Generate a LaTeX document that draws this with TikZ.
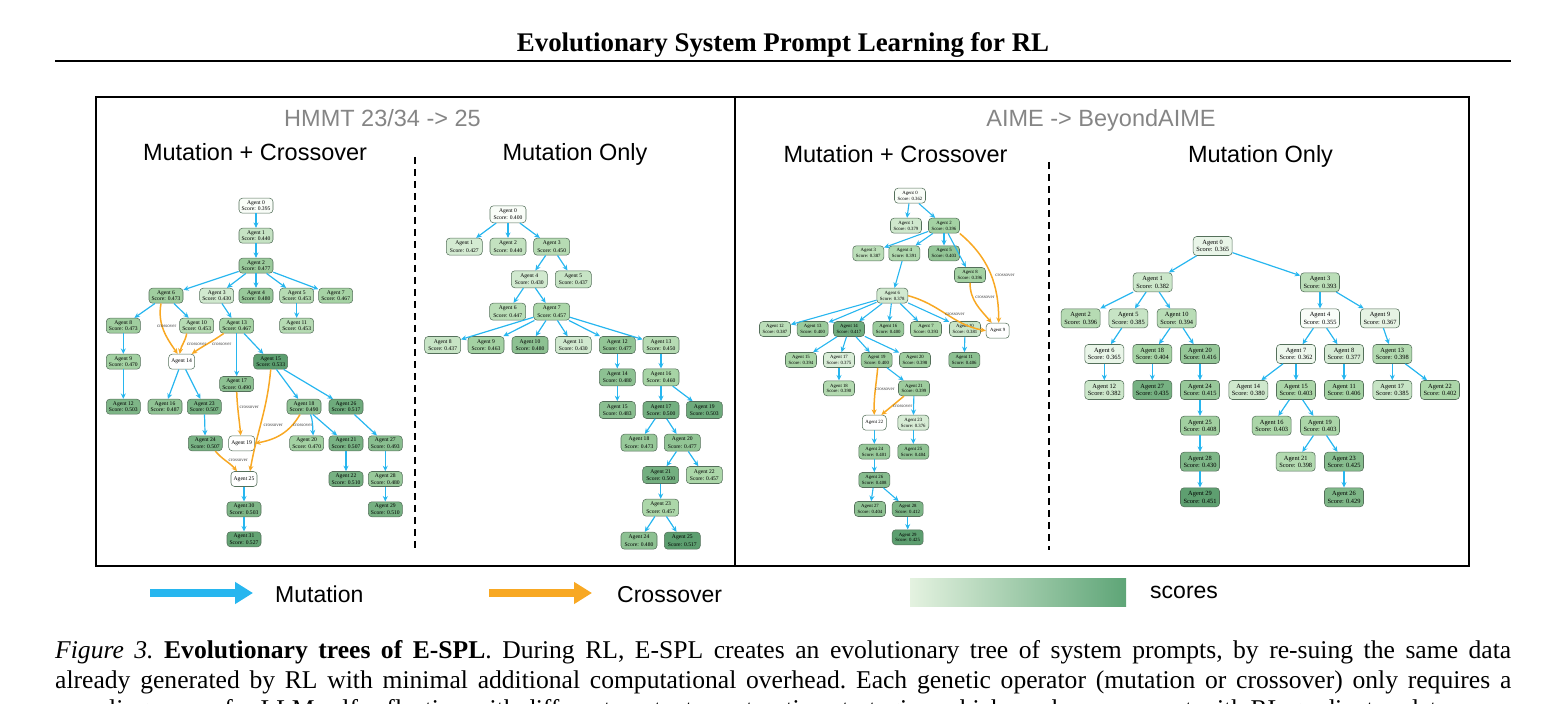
\documentclass[tikz,border=0pt]{standalone}
\usepackage{fontspec}
\setmainfont{Liberation Serif}
\newfontfamily\hvfont{Liberation Sans}
\usetikzlibrary{arrows.meta}
\definecolor{mutblue}{HTML}{27B6EF}
\definecolor{crossorange}{HTML}{F8A823}
\definecolor{glight}{HTML}{F9FDF8}
\definecolor{gmid}{HTML}{A9D5A6}
\definecolor{gdark}{HTML}{5C9E6F}
\definecolor{hdrgray}{HTML}{858585}
\definecolor{nodeborder}{HTML}{55705B}
\definecolor{legL}{HTML}{E4F2E0}
\definecolor{legR}{HTML}{5EA577}
\tikzset{
 agentbase/.style={draw=nodeborder, line width=0.55pt, rounded corners=3.5pt, align=center, inner sep=0pt},
 aone/.style={agentbase, minimum width=34pt, minimum height=15pt, font=\fontsize{5.6}{6.6}\selectfont},
 atwo/.style={agentbase, minimum width=36pt, minimum height=17pt, font=\fontsize{5.6}{7.2}\selectfont},
 athree/.style={agentbase, minimum width=31pt, minimum height=15pt, font=\fontsize{4.8}{5.7}\selectfont},
 afour/.style={agentbase, minimum width=39pt, minimum height=19pt, font=\fontsize{6.4}{7.3}\selectfont},
 mut/.style={draw=mutblue, line width=1.2pt, -{Stealth[length=5.5pt,width=5pt]}},
 cross/.style={draw=crossorange, line width=1.5pt, -{Stealth[length=5.5pt,width=5pt]}},
 xlbl/.style={font=\fontsize{5}{5}\selectfont, text=black!75, inner sep=0pt},
 hdr/.style={font=\hvfont\fontsize{23.5}{28}\selectfont, inner sep=0pt, anchor=base},
}
\newcommand{\ag}[6]{\pgfmathtruncatemacro{\pct}{max(0,min(100,100*(#6-\scmin)/(\scmax-\scmin)))}%
\ifnum\pct<50 \pgfmathtruncatemacro{\agpp}{2*\pct}\colorlet{agfill}{gmid!\agpp!glight}\else\pgfmathtruncatemacro{\agpp}{2*\pct-100}\colorlet{agfill}{gdark!\agpp!gmid}\fi
\node[#1, fill=agfill] (#2) at (#3,704-#4) {Agent #5\\Score: #6};}
\begin{document}
\begin{tikzpicture}[x=1pt,y=1pt]
\useasboundingbox (0,0) rectangle (1566,704);
% title and rule
\node[font=\fontsize{26.9}{30}\selectfont\bfseries, inner sep=0pt, anchor=base] (title) at (783,704-52) {Evolutionary System Prompt Learning for RL};
\draw[line width=2.4pt] (55,704-61) -- (1511,704-61);
% frame
\draw[line width=1.3pt] (96,704-97) rectangle (1469,704-566);
\draw[line width=1.3pt] (735,704-97) -- (735,704-566);
\draw[line width=1.2pt, dash pattern=on 7pt off 5pt] (415,704-157) -- (415,704-550);
\draw[line width=1.2pt, dash pattern=on 7pt off 5pt] (1049,704-162) -- (1049,704-550);
% headers
\node[hdr, text=hdrgray] (h1) at (382.5,704-126.5) {HMMT 23/34 -> 25};
\node[hdr, text=hdrgray] (h2) at (1101,704-126.5) {AIME -> BeyondAIME};
\node[hdr] (s1) at (255,704-160.5) {Mutation + Crossover};
\node[hdr] (s2) at (575,704-160.5) {Mutation Only};
\node[hdr] (s3) at (895.5,704-162.5) {Mutation + Crossover};
\node[hdr] (s4) at (1260.5,704-162.5) {Mutation Only};

% ---------------- Tree 1 ----------------
\def\scmin{0.395}\def\scmax{0.533}
\ag{aone}{a0}{256}{205.7}{0}{0.395}
\ag{aone}{a1}{256}{235.7}{1}{0.440}
\ag{aone}{a2}{256}{265.7}{2}{0.477}
\ag{aone}{a6}{166}{295.7}{6}{0.473}
\ag{aone}{a3}{216.7}{295.7}{3}{0.430}
\ag{aone}{a4}{256}{295.7}{4}{0.480}
\ag{aone}{a5}{296.7}{295.7}{5}{0.453}
\ag{aone}{a7}{335.7}{295.7}{7}{0.467}
\ag{aone}{a8}{123.3}{325.7}{8}{0.473}
\ag{aone}{a10}{196.7}{325.7}{10}{0.453}
\ag{aone}{a13}{236.7}{325.7}{13}{0.467}
\ag{aone}{a11}{296.7}{325.7}{11}{0.453}
\ag{aone}{a9}{123.3}{361.7}{9}{0.470}
\node[aone, fill=white, minimum width=26pt] (a14) at (181.7,704-361.7) {Agent 14};
\ag{aone}{a15}{270.7}{361.7}{15}{0.533}
\ag{aone}{a17}{236.7}{384}{17}{0.490}
\ag{aone}{a12}{123.3}{406.7}{12}{0.503}
\ag{aone}{a16}{165}{406.7}{16}{0.487}
\ag{aone}{a23}{204.3}{406.7}{23}{0.507}
\ag{aone}{a18}{304}{406.7}{18}{0.490}
\ag{aone}{a26}{346}{406.7}{26}{0.517}
\ag{aone}{a24}{205.3}{443.3}{24}{0.507}
\node[aone, fill=white, minimum width=26pt] (a19) at (241.7,704-443.3) {Agent 19};
\ag{aone}{a20}{306.7}{443.3}{20}{0.470}
\ag{aone}{a21}{346}{443.3}{21}{0.507}
\ag{aone}{a27}{385.3}{443.3}{27}{0.493}
\node[aone, fill=white, minimum width=26pt] (a25) at (244,704-479) {Agent 25};
\ag{aone}{a22}{346}{479}{22}{0.510}
\ag{aone}{a28}{385.3}{479}{28}{0.480}
\ag{aone}{a30}{244}{509.3}{30}{0.503}
\ag{aone}{a29}{385.3}{509.3}{29}{0.510}
\ag{aone}{a31}{244}{539.3}{31}{0.527}
\foreach \p/\c in {a0/a1,a1/a2,a2/a6,a2/a3,a2/a4,a2/a5,a2/a7,a6/a8,a6/a10,a3/a13,a5/a11,a13/a15,a8/a9,a9/a12,a13/a17,a15/a18,a15/a26,a14/a16,a14/a23,a23/a24,a18/a21,a26/a27,a21/a22,a27/a28,a28/a29,a25/a30,a30/a31}
  \draw[mut] (\p) -- (\c);
\draw[mut] ([xshift=6.5pt]a18.south) to[out=-70,in=95] ([xshift=6.5pt]a20.north);
\draw[cross] ([xshift=-5pt]a6.south) to[out=-100,in=125] ([xshift=-4pt]a14.north);
\draw[cross] ([xshift=-10pt]a10.south) to[out=-100,in=80] ([xshift=-2pt]a14.north);
\draw[cross] ([xshift=-13pt]a13.south) to[out=-145,in=35] ([xshift=10pt]a14.north);
\draw[cross] (a17.south) to[out=-88,in=95] ([xshift=-1pt]a19.north);
\draw[cross] ([xshift=-4pt]a18.south) to[out=-120,in=10] (a19.east);
\draw[cross] (a15.south) to[out=-95,in=80] ([xshift=6pt]a25.north);
\draw[cross] ([xshift=10pt]a24.south) to[out=-50,in=130] ([xshift=-7pt]a25.north);
\node[xlbl] (ax1) at (166.7,704-326) {crossover};
\node[xlbl] (ax2) at (196.7,704-344) {crossover};
\node[xlbl] (ax3) at (221.7,704-344) {crossover};
\node[xlbl] (ax4) at (249.3,704-407.3) {crossover};
\node[xlbl] (ax5) at (273.3,704-425) {crossover};
\node[xlbl] (ax6) at (302.7,704-425.7) {crossover};
\node[xlbl] (ax7) at (238.3,704-460.7) {crossover};

% ---------------- Tree 2 ----------------
\def\scmin{0.400}\def\scmax{0.517}
\ag{atwo}{b0}{508}{214.3}{0}{0.400}
\ag{atwo}{b1}{464.3}{246.7}{1}{0.427}
\ag{atwo}{b2}{508}{246.7}{2}{0.440}
\ag{atwo}{b3}{551.7}{246.7}{3}{0.450}
\ag{atwo}{b4}{529.3}{279.3}{4}{0.430}
\ag{atwo}{b5}{573.3}{279.3}{5}{0.437}
\ag{atwo}{b6}{507.7}{311.7}{6}{0.447}
\ag{atwo}{b7}{551.7}{311.7}{7}{0.457}
\ag{atwo}{b8}{442.7}{345}{8}{0.437}
\ag{atwo}{b9}{486}{345}{9}{0.463}
\ag{atwo}{b10}{530}{345}{10}{0.480}
\ag{atwo}{b11}{573.3}{345}{11}{0.430}
\ag{atwo}{b12}{617.3}{345}{12}{0.477}
\ag{atwo}{b13}{661}{345}{13}{0.450}
\ag{atwo}{b14}{617.3}{377.3}{14}{0.480}
\ag{atwo}{b16}{661}{377.3}{16}{0.460}
\ag{atwo}{b15}{617.3}{410}{15}{0.483}
\ag{atwo}{b17}{661}{410}{17}{0.500}
\ag{atwo}{b19}{704.3}{410}{19}{0.503}
\ag{atwo}{b18}{639}{442.7}{18}{0.473}
\ag{atwo}{b20}{682.3}{442.7}{20}{0.477}
\ag{atwo}{b21}{660.7}{475}{21}{0.500}
\ag{atwo}{b22}{704.3}{475}{22}{0.457}
\ag{atwo}{b23}{660.7}{507.7}{23}{0.457}
\ag{atwo}{b24}{639}{540.7}{24}{0.480}
\ag{atwo}{b25}{682.3}{540.7}{25}{0.517}
\foreach \p/\c in {b0/b1,b0/b2,b0/b3,b3/b4,b3/b5,b4/b6,b4/b7,b7/b8,b7/b9,b7/b10,b7/b11,b7/b12,b7/b13,b12/b14,b13/b16,b14/b15,b16/b17,b16/b19,b17/b18,b17/b20,b20/b21,b20/b22,b21/b23,b23/b24,b23/b25}
  \draw[mut] (\p) -- (\c);

% ---------------- Tree 3 ----------------
\def\scmin{0.362}\def\scmax{0.425}
\ag{athree}{c0}{910}{195.7}{0}{0.362}
\ag{athree}{c1}{906}{225.7}{1}{0.379}
\ag{athree}{c2}{944}{225.7}{2}{0.396}
\ag{athree}{c3}{868.3}{253.3}{3}{0.387}
\ag{athree}{c4}{904.3}{253.3}{4}{0.391}
\ag{athree}{c5}{944}{253.3}{5}{0.403}
\ag{athree}{c8}{970}{275}{8}{0.396}
\ag{athree}{c6}{892.3}{295.7}{6}{0.378}
\ag{athree}{c12}{775}{329}{12}{0.387}
\ag{athree}{c13}{812.7}{329}{13}{0.400}
\ag{athree}{c14}{849}{329}{14}{0.417}
\ag{athree}{c16}{888.3}{329}{16}{0.400}
\ag{athree}{c7}{926}{329}{7}{0.393}
\ag{athree}{c10}{965}{329}{10}{0.381}
\node[athree, fill=white, minimum width=23pt] (c9) at (997.7,704-330.7) {Agent 9};
\ag{athree}{c15}{801}{360}{15}{0.394}
\ag{athree}{c17}{839}{360}{17}{0.375}
\ag{athree}{c19}{876.7}{360}{19}{0.400}
\ag{athree}{c20}{915}{360}{20}{0.398}
\ag{athree}{c11}{964.3}{360}{11}{0.406}
\ag{athree}{c18}{839}{388.3}{18}{0.390}
\ag{athree}{c21}{914}{388.3}{21}{0.399}
\node[athree, fill=white, minimum width=24pt] (c22) at (874.3,704-422.7) {Agent 22};
\ag{athree}{c23}{913.3}{422.7}{23}{0.376}
\ag{athree}{c24}{874.3}{451.7}{24}{0.401}
\ag{athree}{c25}{913.3}{451.7}{25}{0.404}
\ag{athree}{c26}{874.3}{480}{26}{0.408}
\ag{athree}{c27}{870}{509}{27}{0.404}
\ag{athree}{c28}{907.7}{509}{28}{0.412}
\ag{athree}{c29}{907.7}{537.3}{29}{0.425}
\foreach \p/\c in {c0/c1,c0/c2,c2/c3,c2/c4,c2/c5,c2/c8,c4/c6,c6/c12,c6/c13,c6/c14,c6/c16,c6/c7,c6/c10,c14/c15,c14/c17,c14/c19,c14/c20,c10/c11,c17/c18,c19/c21,c21/c23,c23/c25,c22/c24,c24/c26,c26/c27,c26/c28,c28/c29}
  \draw[mut, line width=1.1pt] (\p) -- (\c);
\draw[cross] (c2.south east) to[out=-40,in=90] ([xshift=1pt]c9.north);
\draw[cross] (c8.south) to[out=-90,in=130] ([xshift=-6pt]c9.north);
\draw[cross] (c6.east) to[out=-15,in=170] (c9.west);
\draw[cross] ([xshift=1pt]c19.south) to[out=-95,in=92] (c22.north);
\draw[cross] ([xshift=-10pt]c21.south) to[out=-140,in=40] ([xshift=7pt]c22.north);
\node[xlbl] (cx1) at (1005,704-275.7) {crossover};
\node[xlbl] (cx2) at (985,704-297.3) {crossover};
\node[xlbl] (cx3) at (955,704-314.3) {crossover};
\node[xlbl] (cx4) at (885,704-389) {crossover};
\node[xlbl] (cx5) at (902.7,704-406) {crossover};

% ---------------- Tree 4 ----------------
\def\scmin{0.355}\def\scmax{0.451}
\ag{afour}{d0}{1212.7}{246}{0}{0.365}
\ag{afour}{d1}{1152.7}{282.3}{1}{0.382}
\ag{afour}{d3}{1320}{282.3}{3}{0.393}
\ag{afour}{d2}{1080.7}{318.3}{2}{0.396}
\ag{afour}{d5}{1128.3}{318.3}{5}{0.385}
\ag{afour}{d10}{1176.7}{318.3}{10}{0.394}
\ag{afour}{d4}{1320}{318.3}{4}{0.355}
\ag{afour}{d9}{1380}{318.3}{9}{0.367}
\ag{afour}{d6}{1104.3}{354}{6}{0.365}
\ag{afour}{d18}{1152.3}{354}{18}{0.404}
\ag{afour}{d20}{1200}{354}{20}{0.416}
\ag{afour}{d7}{1296}{354}{7}{0.362}
\ag{afour}{d8}{1344}{354}{8}{0.377}
\ag{afour}{d13}{1392.3}{354}{13}{0.398}
\ag{afour}{d12}{1104.3}{390}{12}{0.382}
\ag{afour}{d27}{1152.3}{390}{27}{0.435}
\ag{afour}{d24}{1200}{390}{24}{0.415}
\ag{afour}{d14}{1248.3}{390}{14}{0.380}
\ag{afour}{d15}{1296}{390}{15}{0.403}
\ag{afour}{d11}{1344}{390}{11}{0.406}
\ag{afour}{d17}{1392.3}{390}{17}{0.385}
\ag{afour}{d22}{1440}{390}{22}{0.402}
\ag{afour}{d25}{1200}{425.7}{25}{0.408}
\ag{afour}{d16}{1271.7}{425.7}{16}{0.403}
\ag{afour}{d19}{1320}{425.7}{19}{0.403}
\ag{afour}{d28}{1200}{461.7}{28}{0.430}
\ag{afour}{d21}{1295.7}{461.7}{21}{0.398}
\ag{afour}{d23}{1344}{461.7}{23}{0.425}
\ag{afour}{d29}{1200}{497.3}{29}{0.451}
\ag{afour}{d26}{1344}{497.3}{26}{0.429}
\foreach \p/\c in {d0/d1,d0/d3,d1/d2,d1/d5,d1/d10,d5/d6,d10/d18,d10/d20,d3/d4,d3/d9,d4/d7,d4/d8,d9/d13,d6/d12,d18/d27,d20/d24,d7/d14,d7/d15,d8/d11,d13/d17,d13/d22,d24/d25,d15/d16,d15/d19,d25/d28,d19/d21,d19/d23,d28/d29,d23/d26}
  \draw[mut] (\p) -- (\c);

% ---------------- Legend ----------------
\coordinate (lm1) at (150,704-593);
\coordinate (lm2) at (253,704-593);
\coordinate (lc1) at (489,704-593);
\coordinate (lc2) at (592,704-593);
\draw[draw=mutblue, line width=7.6pt, -{Triangle[length=18pt,width=21pt]}] (lm1) -- (lm2);
\draw[draw=crossorange, line width=7.6pt, -{Triangle[length=18pt,width=21pt]}] (lc1) -- (lc2);
\node[font=\hvfont\fontsize{23}{28}\selectfont, inner sep=0pt, anchor=base west] (lgm) at (275,704-602.5) {Mutation};
\node[font=\hvfont\fontsize{23}{28}\selectfont, inner sep=0pt, anchor=base west] (lgc) at (617,704-602.5) {Crossover};
\shade[left color=legL, right color=legR] (910,704-579) rectangle (1126,704-607);
\node[font=\hvfont\fontsize{23}{28}\selectfont, inner sep=0pt, anchor=base west] (lgs) at (1150,704-599) {scores};

% ---------------- Caption ----------------
\node[font=\fontsize{25.6}{29}\selectfont\frenchspacing, inner sep=0pt, anchor=base west] (cap1) at (55,704-659) {\makebox[1456pt][s]{\textit{Figure 3.} \textbf{Evolutionary trees of E-SPL}. During RL, E-SPL creates an evolutionary tree of system prompts, by re-suing the same data}};
\node[font=\fontsize{25.6}{29}\selectfont\frenchspacing, inner sep=0pt, anchor=base west] (cap2) at (55,704-688) {\makebox[1456pt][s]{already generated by RL with minimal additional computational overhead. Each genetic operator (mutation or crossover) only requires a}};
\node[font=\fontsize{25.6}{29}\selectfont\frenchspacing, inner sep=0pt, anchor=base west] (cap3) at (55,704-717) {sampling server for LLM self-reflection with different context construction strategies, which can be concurrent with RL gradient updates.};
\end{tikzpicture}
\end{document}
